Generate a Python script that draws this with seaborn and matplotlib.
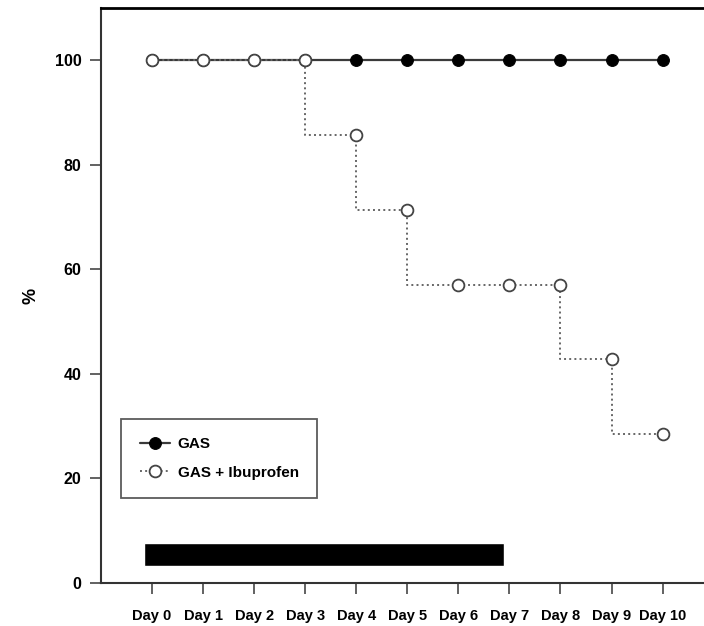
import matplotlib
matplotlib.use('Agg')
import matplotlib.pyplot as plt
import seaborn as sns
import pandas as pd

# ---------------- data ----------------
days = [0, 1, 2, 3, 4, 5, 6, 7, 8, 9, 10]
day_labels = ['Day 0', 'Day 1', 'Day 2', 'Day 3', 'Day 4', 'Day 5',
              'Day 6', 'Day 7', 'Day 8', 'Day 9', 'Day 10']
gas = [100, 100, 100, 100, 100, 100, 100, 100, 100, 100, 100]
gas_ibu = [100, 100, 100, 100, 85.7, 71.4, 57.1, 57.1, 57.1, 42.9, 28.6]
y_ticks = [0, 20, 40, 60, 80, 100]

# treatment period bar (in day units)
treat_start = -0.16
treat_end = 6.9
treat_low = 3.3
treat_high = 7.6

df = pd.DataFrame({'day': days, 'gas': gas, 'gas_ibu': gas_ibu})

sns.set_style('white')
plt.rcParams['font.family'] = ['Liberation Sans', 'DejaVu Sans']

fig = plt.figure(figsize=(7.04, 6.26), dpi=100)
ax = fig.add_axes([101 / 704, 1 - 583 / 626, 612.6 / 704, 575 / 626])

ax.barh(y=(treat_low + treat_high) / 2, width=treat_end - treat_start,
        left=treat_start, height=treat_high - treat_low, color='black', zorder=1)

sns.lineplot(data=df, x='day', y='gas', ax=ax, color='#3a3a3a', linewidth=1.6,
             marker='o', markersize=8.5, markerfacecolor='black',
             markeredgecolor='black', drawstyle='steps-pre', label='GAS', zorder=3)
sns.lineplot(data=df, x='day', y='gas_ibu', ax=ax, color='#666666', linewidth=1.4,
             linestyle=':', marker='o', markersize=8.5, markerfacecolor='white',
             markeredgecolor='#444444', markeredgewidth=1.3,
             drawstyle='steps-pre', label='GAS + Ibuprofen', zorder=4)

ax.set_xlim(-1, 11)
ax.set_ylim(0, 110)
ax.set_xticks(days)
ax.set_xticklabels(day_labels, fontweight='bold')
ax.set_yticks(y_ticks)
ax.set_yticklabels([str(v) for v in y_ticks], fontweight='bold')
ax.set_xlabel('')
ax.set_ylabel('%', fontsize=13, labelpad=11, color='black', fontweight='bold')

ax.tick_params(axis='both', direction='out', length=8, width=1.3,
               color='#555555', labelsize=10.5, labelcolor='black',
               bottom=True, left=True)
ax.tick_params(axis='x', pad=11)
ax.tick_params(axis='y', pad=6, labelsize=11.5)

for side in ['left', 'bottom', 'top', 'right']:
    ax.spines[side].set_color('#333333')
    ax.spines[side].set_linewidth(1.5)
ax.spines['top'].set_color('black')
ax.spines['top'].set_linewidth(2)

leg = ax.legend(loc='lower left', bbox_to_anchor=(0.033, 0.148), borderaxespad=0,
                fancybox=False, frameon=True, handlelength=2.0,
                prop={'size': 11, 'weight': 'bold'},
                handletextpad=0.5, borderpad=1.2, labelspacing=0.95)
leg.get_frame().set_edgecolor('#333333')
leg.get_frame().set_linewidth(1.3)
for t in leg.get_texts():
    t.set_color('black')

fig.savefig('out.png', dpi=100)
